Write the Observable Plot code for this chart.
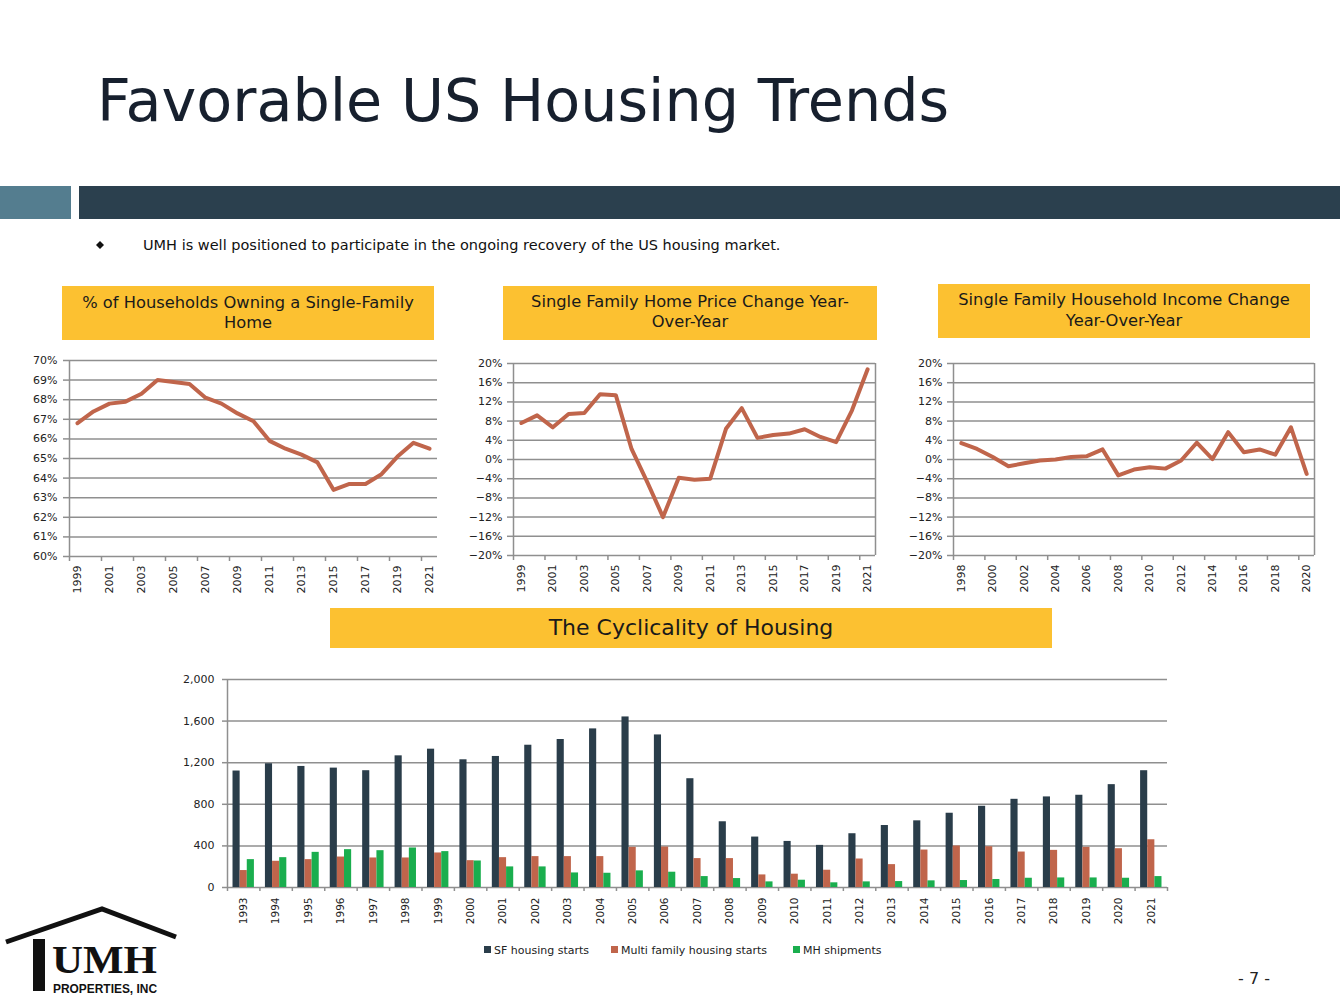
<!DOCTYPE html>
<html><head><meta charset="utf-8">
<script src="https://cdn.jsdelivr.net/npm/d3@7"></script>
<script src="https://cdn.jsdelivr.net/npm/@observablehq/plot@0.6"></script>
<style>
html,body{margin:0;padding:0;background:#fff;}
#page{position:relative;width:1340px;height:1007px;overflow:hidden;font-family:"DejaVu Sans",sans-serif;}
.chart{position:absolute;}
.chart svg{display:block;overflow:visible;background:transparent;}
</style></head><body>
<div id="page">
<svg id="bg" width="1340" height="1007" style="position:absolute;left:0;top:0" font-family="DejaVu Sans">
  <text x="97" y="121" font-size="58.8" fill="#17202e">Favorable US Housing Trends</text>
  <rect x="0" y="186" width="71" height="33" fill="#547d8f"/>
  <rect x="79" y="186" width="1261" height="33" fill="#2b404e"/>
  <polygon points="100,241 104,245 100,249 96,245" fill="#111"/>
  <text x="143" y="250" font-size="14.5" fill="#111">UMH is well positioned to participate in the ongoing recovery of the US housing market.</text>
  <rect x="62" y="286" width="372" height="54" fill="#fcc131"/>
  <text x="248" y="308" font-size="16.3" fill="#1a1a1a" text-anchor="middle">% of Households Owning a Single-Family</text>
  <text x="248" y="328" font-size="16.3" fill="#1a1a1a" text-anchor="middle">Home</text>
  <rect x="503" y="286" width="374" height="54" fill="#fcc131"/>
  <text x="690" y="307" font-size="16.3" fill="#1a1a1a" text-anchor="middle">Single Family Home Price Change Year-</text>
  <text x="690" y="327" font-size="16.3" fill="#1a1a1a" text-anchor="middle">Over-Year</text>
  <rect x="938" y="284" width="372" height="54" fill="#fcc131"/>
  <text x="1124" y="305" font-size="16.3" fill="#1a1a1a" text-anchor="middle">Single Family Household Income Change</text>
  <text x="1124" y="326" font-size="16.3" fill="#1a1a1a" text-anchor="middle">Year-Over-Year</text>
  <rect x="330" y="608" width="722" height="40" fill="#fcc131"/>
  <text x="691" y="635" font-size="22" fill="#1a1a1a" text-anchor="middle">The Cyclicality of Housing</text>
  <text x="1254" y="984" font-size="16" fill="#222" text-anchor="middle">- 7 -</text>
  <g id="legend"></g>
  <g fill="#111">
    <polyline points="6,942 102,909 176,937" fill="none" stroke="#111" stroke-width="5"/>
    <rect x="33" y="939" width="12" height="52"/>
    <text x="52" y="973" font-family="Liberation Serif" font-weight="bold" font-size="40" textLength="105" lengthAdjust="spacingAndGlyphs">UMH</text>
    <text x="53" y="993" font-family="Liberation Sans" font-weight="bold" font-size="12.5" textLength="104" lengthAdjust="spacingAndGlyphs">PROPERTIES, INC</text>
  </g>
</svg>
</div>
<script>
// ---------- DATA ----------
const ownYears = [1999,2000,2001,2002,2003,2004,2005,2006,2007,2008,2009,2010,2011,2012,2013,2014,2015,2016,2017,2018,2019,2020,2021];
const ownership = [66.8,67.4,67.8,67.9,68.3,69.0,68.9,68.8,68.1,67.8,67.3,66.9,65.9,65.5,65.2,64.8,63.4,63.7,63.7,64.2,65.1,65.8,65.5];
const ownTicks = [60,61,62,63,64,65,66,67,68,69,70];
const ownLabels = [1999,2001,2003,2005,2007,2009,2011,2013,2015,2017,2019,2021];

const priceYears = [1999,2000,2001,2002,2003,2004,2005,2006,2007,2008,2009,2010,2011,2012,2013,2014,2015,2016,2017,2018,2019,2020,2021];
const priceChange = [7.6,9.2,6.7,9.5,9.7,13.6,13.4,2.2,-4.7,-12.0,-3.8,-4.2,-4.0,6.4,10.7,4.5,5.1,5.4,6.3,4.7,3.6,10.2,18.8];
const priceLabels = [1999,2001,2003,2005,2007,2009,2011,2013,2015,2017,2019,2021];

const incomeYears = [1998,1999,2000,2001,2002,2003,2004,2005,2006,2007,2008,2009,2010,2011,2012,2013,2014,2015,2016,2017,2018,2019,2020];
const incomeChange = [3.4,2.2,0.5,-1.4,-0.8,-0.2,0.0,0.5,0.7,2.1,-3.3,-2.1,-1.6,-1.9,-0.2,3.5,0.1,5.7,1.5,2.1,1.0,6.7,-3.0];
const incomeLabels = [1998,2000,2002,2004,2006,2008,2010,2012,2014,2016,2018,2020];

const pctTicks = [-20,-16,-12,-8,-4,0,4,8,12,16,20];

const barYears = [1993,1994,1995,1996,1997,1998,1999,2000,2001,2002,2003,2004,2005,2006,2007,2008,2009,2010,2011,2012,2013,2014,2015,2016,2017,2018,2019,2020,2021];
const sfStarts = [1120,1190,1164,1148,1123,1266,1330,1228,1260,1368,1423,1525,1640,1467,1046,632,485,443,405,517,596,641,714,781,848,871,887,989,1123];
const mfStarts = [163,252,268,293,284,284,332,258,287,297,297,297,386,389,278,278,121,128,166,274,220,360,399,392,341,357,386,373,459];
const mhShipments = [268,287,338,364,354,380,345,255,198,198,140,137,160,147,105,86,54,70,45,54,57,64,67,77,89,92,92,89,105];
const barTicks = [0,400,800,1200,1600,2000];
const seriesNames = ["SF housing starts","Multi family housing starts","MH shipments"];
const seriesColors = ["#2a3d4a","#c0654b","#1aae4e"];

// ---------- STYLE ----------
const gridColor = "#8f8f8f";
const lineColor = "#c0654b";
const pctFmt = d => (d < 0 ? "\u2212" : "") + Math.abs(d) + "%";
const baseStyle = {fontFamily: "DejaVu Sans", fontSize: "11px", color: "#222", background: "transparent", overflow: "visible"};

function place(svg, left, top) {
  const div = document.createElement("div");
  div.className = "chart";
  div.style.left = left + "px";
  div.style.top = top + "px";
  div.appendChild(svg);
  document.getElementById("page").appendChild(div);
}

function lineChart({years, values, yDomain, yTicks, labels, fmt, width, height, m, frameRight, tickPad}) {
  const x0 = years[0] - 0.5, x1 = years[years.length - 1] + 0.5;
  const marks = d3.range(x0, x1, 2);
  const data = years.map((y, i) => ({year: y, value: values[i]}));
  return Plot.plot({
    width, height,
    marginLeft: m[0], marginRight: m[1], marginTop: m[2], marginBottom: m[3],
    x: {domain: [x0, x1], label: null},
    y: {domain: yDomain, label: null},
    style: baseStyle,
    marks: [
      Plot.gridY(yTicks, {stroke: gridColor, strokeOpacity: 1, strokeWidth: 1.5}),
      Plot.axisY(yTicks, {tickSize: 6, tickPadding: tickPad, tickFormat: fmt, stroke: gridColor, strokeWidth: 1.5, label: null}),
      Plot.ruleX([x0], {stroke: gridColor, strokeWidth: 1.5}),
      frameRight ? Plot.ruleX([x1], {stroke: gridColor, strokeWidth: 1.5}) : null,
      Plot.axisX(marks, {tickSize: 5, tickFormat: () => "", stroke: gridColor, strokeWidth: 1.5, label: null}),
      Plot.axisX(labels, {tickSize: 0, tickPadding: 9, tickRotate: -90, tickFormat: d => `${d}`, label: null}),
      Plot.line(data, {x: "year", y: "value", stroke: lineColor, strokeWidth: 4, strokeLinejoin: "round", strokeLinecap: "round"})
    ]
  });
}

place(lineChart({years: ownYears, values: ownership, yDomain: [60, 70], yTicks: ownTicks, labels: ownLabels,
  fmt: d => d + "%", width: 450, height: 260, m: [69, 13, 20, 44], frameRight: false, tickPad: 6}), 0, 340);

place(lineChart({years: priceYears, values: priceChange, yDomain: [-20, 20], yTicks: pctTicks, labels: priceLabels,
  fmt: pctFmt, width: 440, height: 257, m: [63, 15, 20, 45], frameRight: true, tickPad: 5}), 450, 343);

place(lineChart({years: incomeYears, values: incomeChange, yDomain: [-20, 20], yTicks: pctTicks, labels: incomeLabels,
  fmt: pctFmt, width: 450, height: 257, m: [63, 26, 20, 45], frameRight: true, tickPad: 5}), 890, 343);

// bar chart
const barTable = [];
[sfStarts, mfStarts, mhShipments].forEach((arr, k) => {
  arr.forEach((v, i) => barTable.push({year: barYears[i], k, series: seriesNames[k], value: v}));
});
const bw = 0.22;
const bx0 = barYears[0] - 0.5, bx1 = barYears[barYears.length - 1] + 0.5;
const barChart = Plot.plot({
  width: 1040, height: 280,
  marginLeft: 77, marginRight: 23, marginTop: 19, marginBottom: 53,
  x: {domain: [bx0, bx1], label: null},
  y: {domain: [0, 2000], label: null},
  color: {domain: seriesNames, range: seriesColors},
  style: baseStyle,
  marks: [
    Plot.gridY(barTicks, {stroke: gridColor, strokeOpacity: 1, strokeWidth: 1.5}),
    Plot.axisY(barTicks, {tickSize: 5, tickPadding: 8, tickFormat: d3.format(","), stroke: gridColor, strokeWidth: 1.5, label: null}),
    Plot.ruleX([bx0], {stroke: gridColor, strokeWidth: 1.5}),
    Plot.axisX(d3.range(bx0, bx1 + 0.01, 1), {tickSize: 4, tickFormat: () => "", stroke: gridColor, strokeWidth: 1.5, label: null}),
    Plot.axisX(barYears, {tickSize: 0, tickPadding: 10, tickRotate: -90, tickFormat: d => `${d}`, fontSize: 10.5, label: null}),
    Plot.rectY(barTable, {
      x1: d => d.year + (d.k - 1.5) * bw,
      x2: d => d.year + (d.k - 0.5) * bw,
      y: "value", fill: "series"
    })
  ]
});
place(barChart, 150, 660);

// legend
const legendX = [484, 611, 793];
const lg = d3.select("#legend");
seriesNames.forEach((name, i) => {
  lg.append("rect").attr("x", legendX[i]).attr("y", 946).attr("width", 7).attr("height", 7).attr("fill", seriesColors[i]);
  lg.append("text").attr("x", legendX[i] + 10).attr("y", 954).attr("font-size", 11).attr("fill", "#222").text(name);
});
</script>
</body></html>
